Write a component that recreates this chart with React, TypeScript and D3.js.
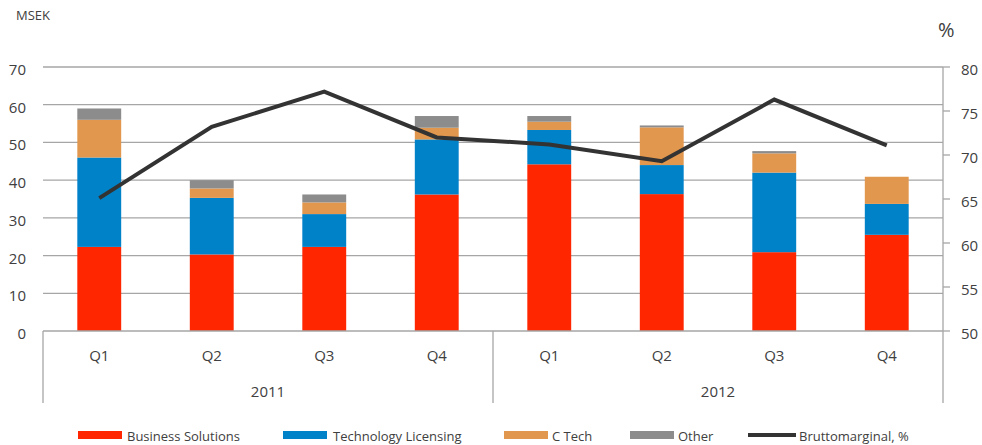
import React from "react";
import * as d3 from "d3";

const quarters = ["Q1", "Q2", "Q3", "Q4", "Q1", "Q2", "Q3", "Q4"];
const years = ["2011", "2012"];
const businessSolutions = [22.3, 20.3, 22.3, 36.2, 44.2, 36.3, 20.9, 25.5];
const technologyLicensing = [23.7, 15.0, 8.7, 14.6, 9.1, 7.7, 21.1, 8.2];
const cTech = [10.0, 2.5, 3.1, 3.1, 2.2, 10.0, 5.1, 7.2];
const other = [3.0, 2.2, 2.1, 3.1, 1.5, 0.5, 0.6, 0.0];
const bruttomarginal = [65.1, 73.2, 77.2, 72.0, 71.2, 69.3, 76.3, 71.1];
const leftTicks = [0, 10, 20, 30, 40, 50, 60, 70];
const rightTicks = [50, 55, 60, 65, 70, 75, 80];

const seriesNames = ["Business Solutions", "Technology Licensing", "C Tech", "Other"];
const seriesColors = ["#ff2600", "#0082c8", "#e2974e", "#8c8c8c"];
const lineName = "Bruttomarginal, %";

const W = 982;
const H = 445;
const left = 43;
const right = 943;
const top = 67;
const bottom = 331;
const catBottom = 403;
const font = "'Open Sans', sans-serif";
const textColor = "#404040";
const gridColor = "#a6a6a6";

export default function App() {
  const idx = quarters.map((_, i) => String(i));
  const x = d3.scaleBand<string>().domain(idx).range([left, right]).padding(0);
  const yL = d3.scaleLinear().domain([0, 70]).range([bottom, top]);
  const yR = d3.scaleLinear().domain([50, 80]).range([bottom, top]);
  const barW = x.step() * 0.39;
  const cx = (i: number) => (x(String(i)) as number) + x.bandwidth() / 2;

  const rows = quarters.map((q, i) => ({
    i,
    bs: businessSolutions[i],
    tl: technologyLicensing[i],
    ct: cTech[i],
    ot: other[i],
  }));
  const stack = d3.stack<any>().keys(["bs", "tl", "ct", "ot"]);
  const stacked = stack(rows);

  const line = d3
    .line<number>()
    .x((_, i) => cx(i))
    .y((d) => yR(d));

  const groupW = (right - left) / years.length;

  const legendItems = [
    { x: 78, textX: 127, color: seriesColors[0], name: seriesNames[0], type: "rect" },
    { x: 283, textX: 333, color: seriesColors[1], name: seriesNames[1], type: "rect" },
    { x: 504, textX: 552, color: seriesColors[2], name: seriesNames[2], type: "rect" },
    { x: 630, textX: 678, color: seriesColors[3], name: seriesNames[3], type: "rect" },
    { x: 748, textX: 799, color: "#333333", name: lineName, type: "line" },
  ];

  return (
    <svg width={W} height={H} style={{ position: "absolute", left: 0, top: 0, background: "#fff" }}>
      <rect x={0} y={0} width={W} height={H} fill="#fff" />
      {/* gridlines */}
      {leftTicks
        .filter((t) => t !== 0)
        .map((t) => (
          <line key={t} x1={left} x2={right} y1={yL(t)} y2={yL(t)} stroke={gridColor} strokeWidth={1.3} />
        ))}
      {/* bars */}
      {stacked.map((s, si) =>
        s.map((d, i) => (
          <rect
            key={si + "-" + i}
            x={cx(i) - barW / 2}
            width={barW}
            y={yL(d[1])}
            height={Math.max(0, yL(d[0]) - yL(d[1]))}
            fill={seriesColors[si]}
          />
        ))
      )}
      {/* category axis */}
      <line x1={left} x2={right} y1={bottom} y2={bottom} stroke={gridColor} strokeWidth={1.3} />
      {[0, 1, 2].map((k) => (
        <line
          key={k}
          x1={left + k * groupW}
          x2={left + k * groupW}
          y1={bottom}
          y2={catBottom}
          stroke={gridColor}
          strokeWidth={1.3}
        />
      ))}
      {/* right axis */}
      <line x1={right} x2={right} y1={top} y2={bottom} stroke={gridColor} strokeWidth={1.3} />
      {rightTicks.map((t) => (
        <g key={t}>
          <line x1={right} x2={right + 7} y1={yR(t)} y2={yR(t)} stroke={gridColor} strokeWidth={1.3} />
          <text x={961} y={yR(t) + 4} dominantBaseline="middle" fontFamily={font} fontSize={15} fill={textColor}>
            {t}
          </text>
        </g>
      ))}
      {/* left tick labels */}
      {leftTicks.map((t) => (
        <text
          key={t}
          x={26}
          y={yL(t) + 4}
          textAnchor="end"
          dominantBaseline="middle"
          fontFamily={font}
          fontSize={15}
          fill={textColor}
        >
          {t}
        </text>
      ))}
      {/* quarter labels */}
      {quarters.map((q, i) => (
        <text key={i} x={cx(i)} y={357} textAnchor="middle" dominantBaseline="middle" fontFamily={font} fontSize={15} fill={textColor}>
          {q}
        </text>
      ))}
      {years.map((yv, k) => (
        <text
          key={yv}
          x={left + groupW * (k + 0.5)}
          y={393}
          textAnchor="middle"
          dominantBaseline="middle"
          fontFamily={font}
          fontSize={15}
          fill={textColor}
        >
          {yv}
        </text>
      ))}
      {/* line */}
      <path d={line(bruttomarginal) || ""} fill="none" stroke="#333333" strokeWidth={4} strokeLinejoin="miter" />
      {/* unit labels */}
      <text x={16} y={17} dominantBaseline="middle" fontFamily={font} fontSize={13} fill={textColor}>
        MSEK
      </text>
      <text x={938} y={32} dominantBaseline="middle" fontFamily={font} fontSize={20} fill={textColor}>
        %
      </text>
      {/* legend */}
      {legendItems.map((it) => (
        <g key={it.name}>
          {it.type === "rect" ? (
            <rect x={it.x} y={431} width={44} height={8} fill={it.color} />
          ) : (
            <line x1={it.x} x2={it.x + 48} y1={435} y2={435} stroke={it.color} strokeWidth={4} />
          )}
          <text x={it.textX} y={438} dominantBaseline="middle" fontFamily={font} fontSize={13} fill={textColor}>
            {it.name}
          </text>
        </g>
      ))}
    </svg>
  );
}
